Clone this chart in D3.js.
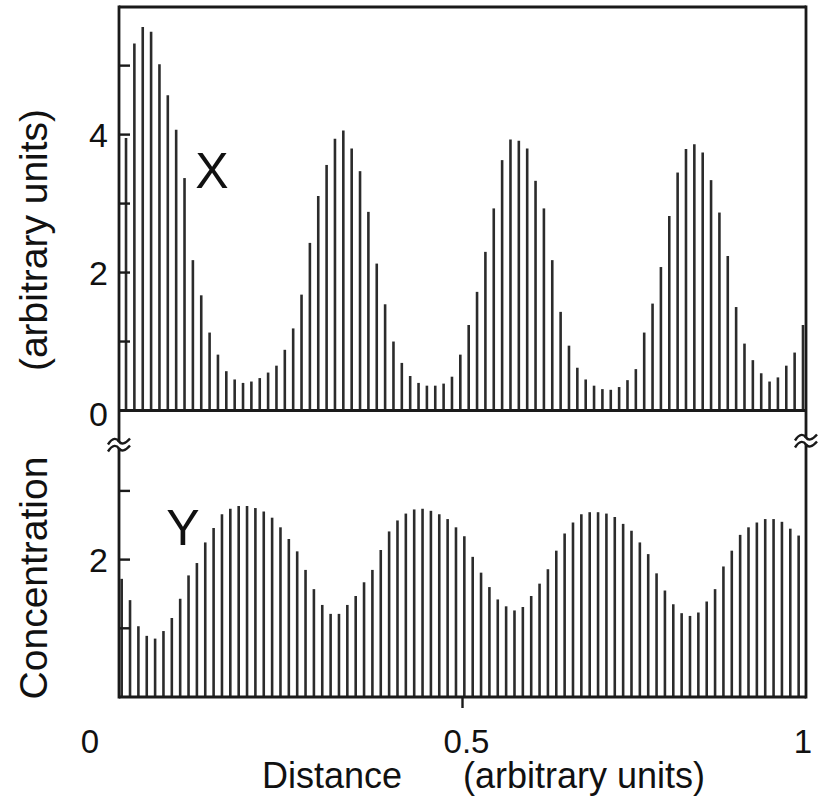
<!DOCTYPE html>
<html>
<head>
<meta charset="utf-8">
<script src="https://cdn.jsdelivr.net/npm/d3@7"></script>
<style>
  body { margin: 0; background: #fff; }
  text { font-family: "Liberation Sans", Arial, Helvetica, sans-serif; fill: #111; }
</style>
</head>
<body>
<div id="chart"></div>
<script>
// concentration of X (upper panel), one bar per cell
const xValues = [
  3.95, 5.32, 5.56, 5.49, 5.02, 4.57, 4.07, 3.37, 2.18, 1.67,
  1.13, 0.81, 0.57, 0.45, 0.40, 0.42, 0.47, 0.55, 0.65, 0.88,
  1.19, 1.68, 2.43, 3.11, 3.56, 3.94, 4.06, 3.80, 3.47, 2.88,
  2.13, 1.54, 1.00, 0.69, 0.50, 0.40, 0.36, 0.36, 0.39, 0.49,
  0.81, 1.24, 1.72, 2.30, 2.93, 3.63, 3.93, 3.91, 3.80, 3.33,
  2.93, 2.18, 1.43, 0.94, 0.62, 0.45, 0.36, 0.31, 0.30, 0.34,
  0.44, 0.60, 1.13, 1.55, 2.08, 2.82, 3.45, 3.79, 3.86, 3.74,
  3.34, 2.87, 2.24, 1.50, 0.97, 0.73, 0.54, 0.42, 0.48, 0.65,
  0.84, 1.24
];

// concentration of Y (lower panel)
const yValues = [
  1.72, 1.41, 1.03, 0.89, 0.85, 0.96, 1.15, 1.43, 1.77, 1.95,
  2.25, 2.46, 2.66, 2.74, 2.78, 2.78, 2.75, 2.70, 2.61, 2.47,
  2.30, 2.12, 1.85, 1.57, 1.34, 1.21, 1.21, 1.34, 1.47, 1.67,
  1.85, 2.14, 2.41, 2.57, 2.67, 2.73, 2.74, 2.71, 2.66, 2.59,
  2.47, 2.34, 2.04, 1.81, 1.60, 1.42, 1.32, 1.26, 1.31, 1.47,
  1.65, 1.86, 2.13, 2.38, 2.54, 2.66, 2.69, 2.69, 2.67, 2.62,
  2.52, 2.42, 2.25, 2.08, 1.80, 1.55, 1.35, 1.22, 1.18, 1.23,
  1.39, 1.57, 1.90, 2.13, 2.36, 2.47, 2.54, 2.59, 2.59, 2.55,
  2.45, 2.35
];

const xTicks = [0, 0.5, 1];
const xTickLabels = ["0", "0.5", "1"];
const topTicks = [1, 2, 3, 4, 5];
const topTickLabels = [0, 2, 4];
const bottomTicks = [1, 2, 3];
const bottomTickLabels = [2];

const width = 819, height = 800;
const left = 119, right = 806;
const topY = 7, midY = 410.5, bottomY = 697;
const cell = 1 / 82.2;

const svg = d3.select("#chart")
  .append("svg")
  .attr("width", width)
  .attr("height", height);

const x = d3.scaleLinear().domain([0, 1]).range([left, right]);
const yTop = d3.scaleLinear().domain([0, 5.85]).range([midY, topY]);
const yBot = d3.scaleLinear().domain([0, 4]).range([bottomY, bottomY - 4 * 68.7]);

const ink = "#1a1a1a";

// bars (drawn as thin vertical lines)
svg.append("g")
  .selectAll("line")
  .data(xValues)
  .join("line")
  .attr("x1", (d, i) => x((i + 0.84) * cell))
  .attr("x2", (d, i) => x((i + 0.84) * cell))
  .attr("y1", yTop(0))
  .attr("y2", d => yTop(d))
  .attr("stroke", "#2b2b2b")
  .attr("stroke-width", 2.6);

svg.append("g")
  .selectAll("line")
  .data(yValues)
  .join("line")
  .attr("x1", (d, i) => x((i + 0.32) * cell))
  .attr("x2", (d, i) => x((i + 0.32) * cell))
  .attr("y1", yBot(0))
  .attr("y2", d => yBot(d))
  .attr("stroke", "#2b2b2b")
  .attr("stroke-width", 2.6);

// frame
const frame = svg.append("g")
  .attr("stroke", ink)
  .attr("stroke-width", 2.8)
  .attr("fill", "none");

frame.append("line").attr("x1", left).attr("x2", right).attr("y1", topY).attr("y2", topY);
frame.append("line").attr("x1", left - 1).attr("x2", right + 1).attr("y1", midY).attr("y2", midY).attr("stroke-width", 3.2);
frame.append("line").attr("x1", left).attr("x2", right).attr("y1", bottomY).attr("y2", bottomY);
frame.append("line").attr("x1", left).attr("x2", left).attr("y1", topY - 1.4).attr("y2", bottomY + 1.4);
frame.append("line").attr("x1", right).attr("x2", right).attr("y1", topY - 1.4).attr("y2", bottomY + 1.4);

// inward ticks
frame.selectAll(".tt")
  .data(topTicks)
  .join("line")
  .attr("x1", left).attr("x2", left + 11)
  .attr("y1", d => yTop(d)).attr("y2", d => yTop(d))
  .attr("stroke-width", 2.4);

frame.selectAll(".bt")
  .data(bottomTicks)
  .join("line")
  .attr("x1", left).attr("x2", left + 11)
  .attr("y1", d => yBot(d)).attr("y2", d => yBot(d))
  .attr("stroke-width", 2.4);

frame.append("line")
  .attr("x1", x(0.5)).attr("x2", x(0.5))
  .attr("y1", bottomY).attr("y2", bottomY + 11)
  .attr("stroke-width", 2.4);

// axis breaks
function drawBreak(cx, cy) {
  svg.append("rect")
    .attr("x", cx - 3).attr("y", cy - 3)
    .attr("width", 6).attr("height", 6)
    .attr("fill", "#fff");
  [cy - 3.5, cy + 3.5].forEach(function (yy) {
    svg.append("path")
      .attr("d", `M${cx - 11},${yy + 3} C${cx - 6},${yy - 5} ${cx - 2},${yy - 3} ${cx},${yy} S${cx + 6},${yy + 3} ${cx + 11},${yy - 3}`)
      .attr("fill", "none")
      .attr("stroke", ink)
      .attr("stroke-width", 2.4);
  });
}
drawBreak(left, 445);
drawBreak(right, 441);

// tick labels
svg.selectAll(".tl")
  .data(topTickLabels)
  .join("text")
  .attr("x", 108)
  .attr("y", d => yTop(d) + 12 + (d === 0 ? 3 : 0))
  .attr("text-anchor", "end")
  .attr("font-size", 34)
  .text(d => d);

svg.selectAll(".bl")
  .data(bottomTickLabels)
  .join("text")
  .attr("x", 108)
  .attr("y", d => yBot(d) + 12)
  .attr("text-anchor", "end")
  .attr("font-size", 34)
  .text(d => d);

svg.selectAll(".xl")
  .data(xTicks)
  .join("text")
  .attr("x", (d, i) => i === 0 ? x(d) - 29 : x(d) + (i === 2 ? -3 : 4))
  .attr("y", 753)
  .attr("text-anchor", "middle")
  .attr("font-size", 33)
  .text((d, i) => xTickLabels[i]);

// axis titles
svg.append("text")
  .attr("x", 262)
  .attr("y", 788)
  .attr("font-size", 36)
  .text("Distance");

svg.append("text")
  .attr("x", 463)
  .attr("y", 788)
  .attr("font-size", 36)
  .text("(arbitrary units)");

svg.append("text")
  .attr("transform", "translate(47, 578) rotate(-90)")
  .attr("text-anchor", "middle")
  .attr("font-size", 39)
  .text("Concentration");

svg.append("text")
  .attr("transform", "translate(47, 240) rotate(-90)")
  .attr("text-anchor", "middle")
  .attr("font-size", 39)
  .text("(arbitrary units)");

// series names
svg.append("text")
  .attr("x", 212)
  .attr("y", 188)
  .attr("text-anchor", "middle")
  .attr("font-size", 50)
  .text("X");

svg.append("text")
  .attr("x", 183)
  .attr("y", 545)
  .attr("text-anchor", "middle")
  .attr("font-size", 50)
  .text("Y");
</script>
</body>
</html>
